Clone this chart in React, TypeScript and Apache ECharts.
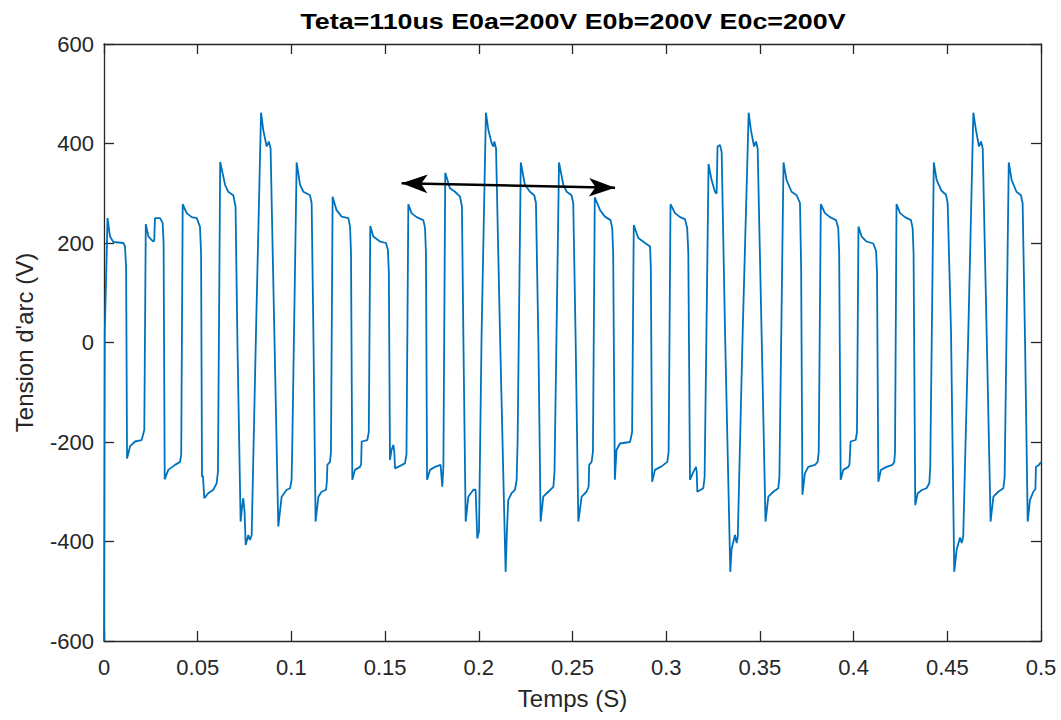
import React, { useEffect, useRef } from "react";
import * as echarts from "echarts";

const titleText = "Teta=110us E0a=200V E0b=200V E0c=200V";
const xName = "Temps (S)";
const yName = "Tension d'arc (V)";
const xMin = 0, xMax = 0.5, xStep = 0.05;
const yMin = -600, yMax = 600, yStep = 200;

// Arc voltage waveform [time (s), voltage (V)], split in segments
const seg1: number[][] = [
  [0, -600], [0.0004, 20], [0.0019, 250], [0.0032, 213], [0.005, 202], [0.0103, 200], [0.0112, 193], [0.0118, 150], [0.0123, -233],
  [0.0139, -209], [0.0165, -199], [0.0201, -196], [0.0215, -176], [0.0223, 238], [0.0237, 213], [0.0263, 203], [0.0268, 205],
  [0.0272, 250], [0.0299, 250], [0.0313, 240], [0.0318, 200], [0.0324, -275], [0.0343, -256], [0.0379, -246], [0.0406, -240],
  [0.0412, -225], [0.042, 278], [0.0441, 260], [0.0468, 252], [0.0495, 250], [0.0512, 233], [0.0518, 180], [0.0523, -270],
  [0.0528, -268], [0.0535, -313], [0.0556, -303], [0.0583, -296], [0.0601, -283], [0.0608, -260], [0.062, 363], [0.0646, 317],
  [0.0663, 303], [0.069, 296], [0.0702, 273], [0.0712, 0], [0.0729, -360], [0.0737, -330], [0.0743, -313], [0.075, -340],
  [0.0756, -407], [0.077, -387], [0.0779, -397], [0.0788, -387], [0.0811, 19], [0.0838, 462], [0.085, 427], [0.0868, 394],
  [0.088, 404], [0.0889, 390], [0.0909, 19], [0.093, -370], [0.0948, -310], [0.0975, -296], [0.0993, -293],
];
const seg2: number[][] = [
  [0.1001, -276], [0.1005, -200], [0.1028, 362], [0.1046, 317], [0.1064, 303], [0.1099, 296], [0.1108, 280], [0.1118, 0],
  [0.1129, -360], [0.1144, -310], [0.1161, -300], [0.1185, -296], [0.1189, -280], [0.1192, -246], [0.1206, -240], [0.1211, -220],
  [0.122, 293], [0.1241, 266], [0.1268, 253], [0.1304, 250], [0.1313, 233], [0.1318, 180], [0.1325, -276], [0.1339, -256],
  [0.1366, -250], [0.1372, -245], [0.1375, -199], [0.1405, -196], [0.1413, -180], [0.1421, 234], [0.1437, 213], [0.1473, 203],
  [0.1505, 200], [0.1515, 186], [0.152, 140], [0.1526, -236], [0.1535, -215], [0.1544, -206], [0.1549, -220], [0.1553, -253],
  [0.158, -248], [0.1606, -243], [0.1614, -225], [0.1624, 278], [0.1641, 260], [0.1668, 252], [0.1704, 246], [0.1713, 230],
  [0.1718, 180], [0.1724, -276], [0.174, -256], [0.1766, -250], [0.1796, -246], [0.1805, -290], [0.1811, -250], [0.1821, 341],
  [0.1846, 310], [0.1873, 303], [0.19, 293], [0.191, 273], [0.1918, 0], [0.193, -360], [0.1944, -310], [0.1971, -296],
  [0.1983, -296], [0.1992, -394],
];
const seg3: number[][] = [
  [0.2001, -380], [0.2015, 19], [0.2038, 462], [0.2051, 427], [0.2069, 400], [0.2078, 394], [0.2083, 404], [0.2092, 390],
  [0.2113, 19], [0.2143, -461], [0.215, -380], [0.2157, -317], [0.2175, -303], [0.2193, -296], [0.2202, -276], [0.2207, -200],
  [0.2224, 362], [0.2246, 317], [0.2273, 303], [0.2296, 296], [0.2305, 280], [0.2318, 0], [0.233, -360], [0.2344, -310],
  [0.2371, -300], [0.2398, -290], [0.2404, -260], [0.2428, 362], [0.2451, 317], [0.2469, 303], [0.2495, 296], [0.2504, 280],
  [0.2517, 0], [0.2531, -360], [0.2549, -310], [0.2575, -300], [0.2586, -290], [0.2589, -246], [0.2602, -240], [0.2609, -220],
  [0.2619, 292], [0.2647, 266], [0.2673, 253], [0.2703, 246], [0.2712, 230], [0.2717, 180], [0.2726, -276], [0.2735, -216],
  [0.2753, -203], [0.2807, -200], [0.2818, -180], [0.2827, 236], [0.2851, 210], [0.2887, 200], [0.2914, 193], [0.2918, 150],
  [0.2925, -280], [0.294, -256], [0.2975, -249],
];
const seg4: number[][] = [
  [0.3006, -240], [0.3013, -220], [0.3023, 278], [0.3047, 260], [0.3074, 252], [0.31, 248], [0.3112, 230], [0.3118, 180],
  [0.3127, -276], [0.3145, -260], [0.3159, -250], [0.3163, -260], [0.3166, -300], [0.3198, -293], [0.3205, -270], [0.3226, 359],
  [0.3242, 327], [0.326, 303], [0.3269, 299], [0.3274, 394], [0.3287, 397], [0.3296, 383], [0.3314, 19], [0.3342, -461],
  [0.3349, -415], [0.3367, -387], [0.3376, -403], [0.3382, -390], [0.3408, 19], [0.344, 462], [0.3452, 427], [0.3469, 394],
  [0.3479, 404], [0.3488, 390], [0.3509, 19], [0.353, -360], [0.3545, -310], [0.3572, -300], [0.3598, -293], [0.3604, -270],
  [0.3626, 362], [0.3642, 327], [0.3669, 303], [0.3696, 296], [0.3714, 280], [0.372, 150], [0.3727, -306], [0.374, -263],
  [0.3758, -250], [0.3794, -246], [0.3808, -240], [0.3814, -220], [0.3825, 278], [0.3847, 260], [0.3874, 252], [0.3906, 246],
  [0.3918, 230], [0.3923, 180], [0.3931, -276], [0.3945, -256], [0.3972, -250], [0.3978, -245], [0.3984, -199],
];
const seg5: number[][] = [
  [0.4011, -196], [0.4018, -180], [0.4026, 233], [0.4043, 213], [0.4069, 203], [0.4105, 199], [0.412, 184], [0.4125, 140],
  [0.4132, -280], [0.4146, -256], [0.4176, -250], [0.4207, -246], [0.4217, -240], [0.4221, -220], [0.4229, 278], [0.4248, 260],
  [0.4274, 252], [0.4306, 246], [0.4315, 230], [0.432, 180], [0.4329, -327], [0.4342, -303], [0.4367, -296], [0.4389, -293],
  [0.4404, -283], [0.4409, -250], [0.4428, 362], [0.4443, 327], [0.4469, 305], [0.4493, 297], [0.4502, 280], [0.452, 19],
  [0.4537, -461], [0.455, -416], [0.4568, -392], [0.4577, -403], [0.4585, -390], [0.4612, 19], [0.4639, 462], [0.4653, 427],
  [0.4669, 394], [0.468, 404], [0.4689, 390], [0.471, 19], [0.4731, -360], [0.4746, -310], [0.4772, -300], [0.4799, -293],
  [0.4806, -270], [0.4828, 362], [0.4843, 327], [0.4869, 303], [0.4893, 296], [0.4902, 280], [0.4915, 0], [0.4929, -360],
  [0.4941, -317], [0.4959, -300], [0.497, -295], [0.4973, -250], [0.4989, -246], [0.5, -240],
];

// Double-headed arrow annotation endpoints [time, voltage]
const arrowStart = [0.1588, 320];
const arrowEnd = [0.2727, 311];

const FONT = '"Liberation Sans", Arial, Helvetica, sans-serif';
const AXIS_COLOR = "#262626";

export default function App() {
  const ref = useRef<HTMLDivElement>(null);
  useEffect(() => {
    if (!ref.current) return;
    const chart = echarts.init(ref.current, undefined, { renderer: "svg" });
    const data = [...seg1, ...seg2, ...seg3, ...seg4, ...seg5];
    const axisLine = { show: true, onZero: false, lineStyle: { color: AXIS_COLOR, width: 1.3 } };
    const axisTick = { show: true, inside: true, length: 10, lineStyle: { color: AXIS_COLOR, width: 1.3 } };
    const xFmt = (v: number) => String(Math.round(v * 100) / 100);
    chart.setOption({
      animation: false,
      backgroundColor: "#ffffff",
      textStyle: { fontFamily: FONT },
      grid: { left: 104, right: 20, top: 44, bottom: 79 },
      graphic: [
        {
          type: "text",
          x: 573,
          y: 21.5,
          scaleX: 1.22,
          style: {
            text: titleText,
            font: `bold 22px ${FONT}`,
            fill: "#000000",
            textAlign: "center",
            textVerticalAlign: "middle",
          },
        },
      ],
      xAxis: [
        {
          type: "value", position: "bottom", min: xMin, max: xMax, interval: xStep,
          name: xName, nameLocation: "middle", nameGap: 45,
          nameTextStyle: { fontSize: 24, color: AXIS_COLOR, fontFamily: FONT },
          axisLine, axisTick, splitLine: { show: false },
          axisLabel: { fontSize: 22, color: AXIS_COLOR, margin: 15, formatter: xFmt, fontFamily: FONT },
        },
        {
          type: "value", position: "top", min: xMin, max: xMax, interval: xStep,
          axisLine, axisTick, splitLine: { show: false }, axisLabel: { show: false },
        },
      ],
      yAxis: [
        {
          type: "value", position: "left", min: yMin, max: yMax, interval: yStep,
          name: yName, nameLocation: "middle", nameGap: 68,
          nameTextStyle: { fontSize: 24, color: AXIS_COLOR, fontFamily: FONT },
          axisLine, axisTick, splitLine: { show: false },
          axisLabel: { fontSize: 22, color: AXIS_COLOR, margin: 10, fontFamily: FONT },
        },
        {
          type: "value", position: "right", min: yMin, max: yMax, interval: yStep,
          axisLine, axisTick, splitLine: { show: false }, axisLabel: { show: false },
        },
      ],
      series: [
        {
          type: "line",
          xAxisIndex: 0,
          yAxisIndex: 0,
          data,
          showSymbol: false,
          symbol: "none",
          clip: true,
          lineStyle: { color: "#0072BD", width: 1.8 },
          itemStyle: { color: "#0072BD" },
          emphasis: { disabled: true },
          markLine: {
            silent: true,
            symbol: ["arrow", "arrow"],
            symbolSize: [14, 26],
            label: { show: false },
            lineStyle: { color: "#000000", width: 2.5, type: "solid" },
            emphasis: { disabled: true },
            data: [[{ coord: arrowStart }, { coord: arrowEnd }]],
          },
        },
      ],
    });
    return () => chart.dispose();
  }, []);
  return (
    <div
      ref={ref}
      style={{ position: "fixed", left: 0, top: 0, width: 1061, height: 720, background: "#fff" }}
    />
  );
}
